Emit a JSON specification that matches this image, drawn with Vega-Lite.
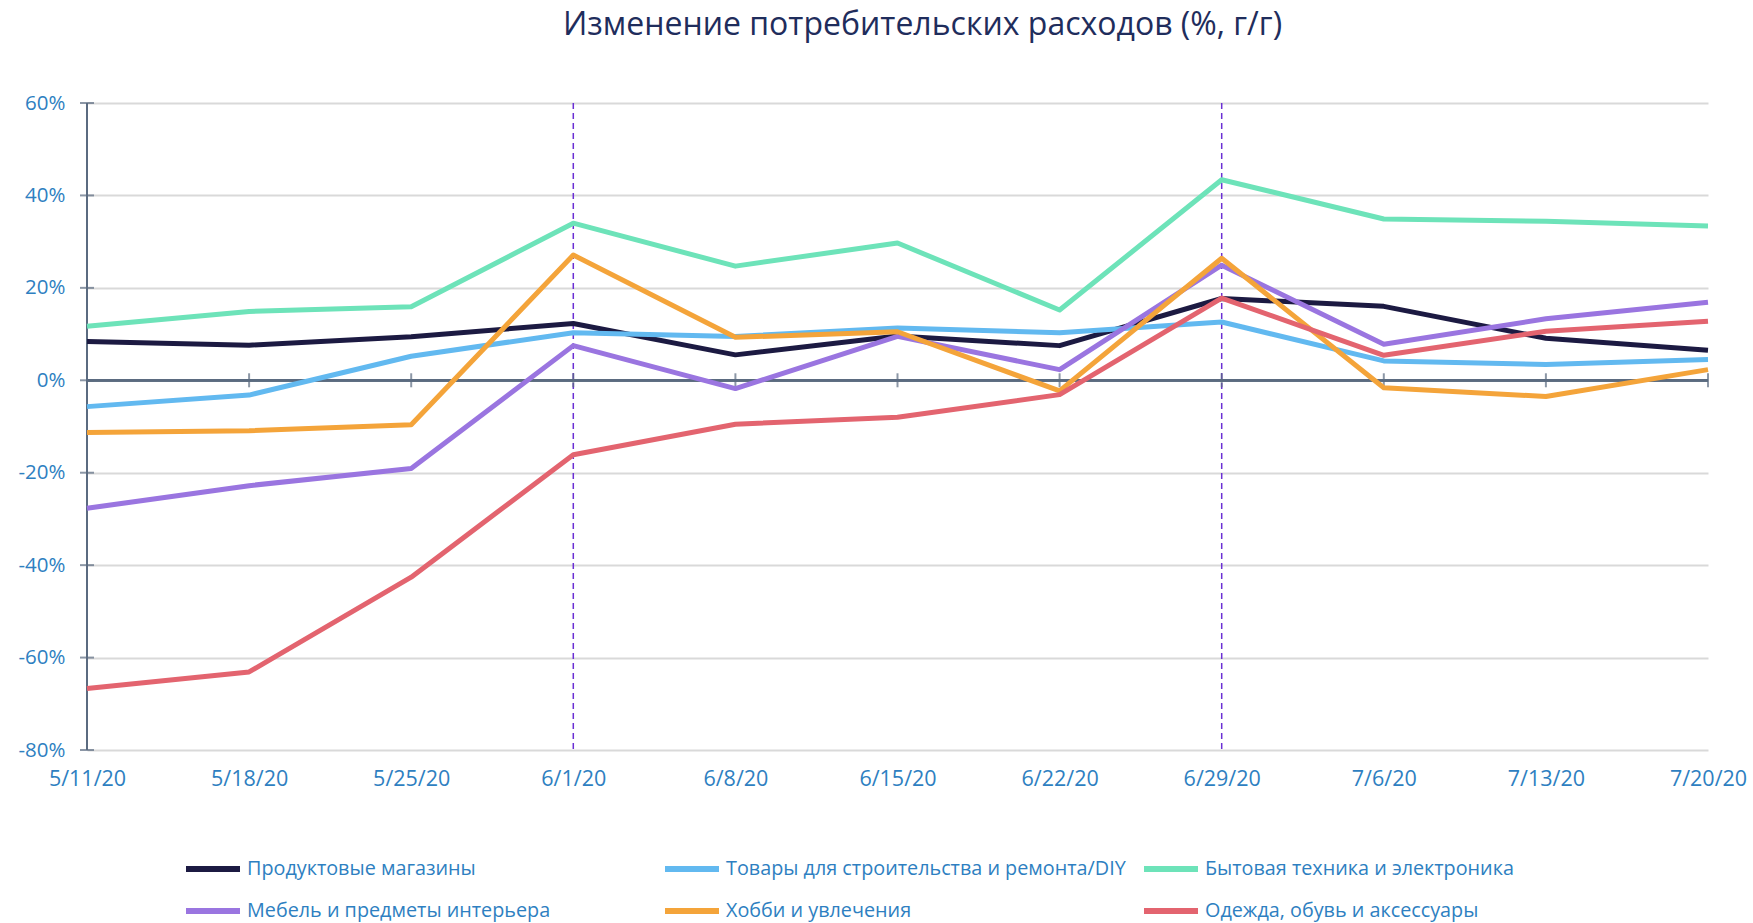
{
  "$schema": "https://vega.github.io/schema/vega-lite/v6.json",
  "width": 1621,
  "height": 647,
  "autosize": {"type": "none"},
  "padding": {"left": 87, "top": 103, "right": 45, "bottom": 173},
  "background": "white",
  "config": {"view": {"stroke": null}, "font": "Open Sans"},
  "title": {
    "text": "Изменение потребительских расходов (%, г/г)",
    "font": "Open Sans",
    "fontSize": 32,
    "fontWeight": "normal",
    "color": "#1f2d5c",
    "anchor": "middle",
    "frame": "group",
    "dx": 25,
    "offset": 51
  },
  "datasets": {
    "weeks": [
      {"week": "2020-05-11"}, {"week": "2020-05-18"}, {"week": "2020-05-25"}, {"week": "2020-06-01"},
      {"week": "2020-06-08"}, {"week": "2020-06-15"}, {"week": "2020-06-22"}, {"week": "2020-06-29"},
      {"week": "2020-07-06"}, {"week": "2020-07-13"}, {"week": "2020-07-20"}
    ],
    "yticks": [
      {"v": -80}, {"v": -60}, {"v": -40}, {"v": -20}, {"v": 0}, {"v": 20}, {"v": 40}, {"v": 60}
    ],
    "events": [{"week": "2020-06-01"}, {"week": "2020-06-29"}],
    "series": [
      {"week": "2020-05-11", "series": "Продуктовые магазины", "value": 8.4},
      {"week": "2020-05-18", "series": "Продуктовые магазины", "value": 7.6},
      {"week": "2020-05-25", "series": "Продуктовые магазины", "value": 9.4},
      {"week": "2020-06-01", "series": "Продуктовые магазины", "value": 12.3},
      {"week": "2020-06-08", "series": "Продуктовые магазины", "value": 5.5},
      {"week": "2020-06-15", "series": "Продуктовые магазины", "value": 9.6},
      {"week": "2020-06-22", "series": "Продуктовые магазины", "value": 7.5},
      {"week": "2020-06-29", "series": "Продуктовые магазины", "value": 17.7},
      {"week": "2020-07-06", "series": "Продуктовые магазины", "value": 16.0},
      {"week": "2020-07-13", "series": "Продуктовые магазины", "value": 9.1},
      {"week": "2020-07-20", "series": "Продуктовые магазины", "value": 6.5},

      {"week": "2020-05-11", "series": "Товары для строительства и ремонта/DIY", "value": -5.7},
      {"week": "2020-05-18", "series": "Товары для строительства и ремонта/DIY", "value": -3.2},
      {"week": "2020-05-25", "series": "Товары для строительства и ремонта/DIY", "value": 5.2},
      {"week": "2020-06-01", "series": "Товары для строительства и ремонта/DIY", "value": 10.3},
      {"week": "2020-06-08", "series": "Товары для строительства и ремонта/DIY", "value": 9.5},
      {"week": "2020-06-15", "series": "Товары для строительства и ремонта/DIY", "value": 11.3},
      {"week": "2020-06-22", "series": "Товары для строительства и ремонта/DIY", "value": 10.3},
      {"week": "2020-06-29", "series": "Товары для строительства и ремонта/DIY", "value": 12.6},
      {"week": "2020-07-06", "series": "Товары для строительства и ремонта/DIY", "value": 4.2},
      {"week": "2020-07-13", "series": "Товары для строительства и ремонта/DIY", "value": 3.4},
      {"week": "2020-07-20", "series": "Товары для строительства и ремонта/DIY", "value": 4.5},

      {"week": "2020-05-11", "series": "Бытовая техника и электроника", "value": 11.7},
      {"week": "2020-05-18", "series": "Бытовая техника и электроника", "value": 14.9},
      {"week": "2020-05-25", "series": "Бытовая техника и электроника", "value": 15.9},
      {"week": "2020-06-01", "series": "Бытовая техника и электроника", "value": 34.0},
      {"week": "2020-06-08", "series": "Бытовая техника и электроника", "value": 24.7},
      {"week": "2020-06-15", "series": "Бытовая техника и электроника", "value": 29.7},
      {"week": "2020-06-22", "series": "Бытовая техника и электроника", "value": 15.2},
      {"week": "2020-06-29", "series": "Бытовая техника и электроника", "value": 43.4},
      {"week": "2020-07-06", "series": "Бытовая техника и электроника", "value": 34.9},
      {"week": "2020-07-13", "series": "Бытовая техника и электроника", "value": 34.4},
      {"week": "2020-07-20", "series": "Бытовая техника и электроника", "value": 33.4},

      {"week": "2020-05-11", "series": "Мебель и предметы интерьера", "value": -27.7},
      {"week": "2020-05-18", "series": "Мебель и предметы интерьера", "value": -22.8},
      {"week": "2020-05-25", "series": "Мебель и предметы интерьера", "value": -19.1},
      {"week": "2020-06-01", "series": "Мебель и предметы интерьера", "value": 7.5},
      {"week": "2020-06-08", "series": "Мебель и предметы интерьера", "value": -1.8},
      {"week": "2020-06-15", "series": "Мебель и предметы интерьера", "value": 9.5},
      {"week": "2020-06-22", "series": "Мебель и предметы интерьера", "value": 2.3},
      {"week": "2020-06-29", "series": "Мебель и предметы интерьера", "value": 24.9},
      {"week": "2020-07-06", "series": "Мебель и предметы интерьера", "value": 7.8},
      {"week": "2020-07-13", "series": "Мебель и предметы интерьера", "value": 13.3},
      {"week": "2020-07-20", "series": "Мебель и предметы интерьера", "value": 16.9},

      {"week": "2020-05-11", "series": "Хобби и увлечения", "value": -11.3},
      {"week": "2020-05-18", "series": "Хобби и увлечения", "value": -10.9},
      {"week": "2020-05-25", "series": "Хобби и увлечения", "value": -9.6},
      {"week": "2020-06-01", "series": "Хобби и увлечения", "value": 27.1},
      {"week": "2020-06-08", "series": "Хобби и увлечения", "value": 9.3},
      {"week": "2020-06-15", "series": "Хобби и увлечения", "value": 10.5},
      {"week": "2020-06-22", "series": "Хобби и увлечения", "value": -2.3},
      {"week": "2020-06-29", "series": "Хобби и увлечения", "value": 26.4},
      {"week": "2020-07-06", "series": "Хобби и увлечения", "value": -1.6},
      {"week": "2020-07-13", "series": "Хобби и увлечения", "value": -3.5},
      {"week": "2020-07-20", "series": "Хобби и увлечения", "value": 2.3},

      {"week": "2020-05-11", "series": "Одежда, обувь и аксессуары", "value": -66.7},
      {"week": "2020-05-18", "series": "Одежда, обувь и аксессуары", "value": -63.1},
      {"week": "2020-05-25", "series": "Одежда, обувь и аксессуары", "value": -42.6},
      {"week": "2020-06-01", "series": "Одежда, обувь и аксессуары", "value": -16.1},
      {"week": "2020-06-08", "series": "Одежда, обувь и аксессуары", "value": -9.5},
      {"week": "2020-06-15", "series": "Одежда, обувь и аксессуары", "value": -8.0},
      {"week": "2020-06-22", "series": "Одежда, обувь и аксессуары", "value": -3.1},
      {"week": "2020-06-29", "series": "Одежда, обувь и аксессуары", "value": 17.8},
      {"week": "2020-07-06", "series": "Одежда, обувь и аксессуары", "value": 5.4},
      {"week": "2020-07-13", "series": "Одежда, обувь и аксессуары", "value": 10.6},
      {"week": "2020-07-20", "series": "Одежда, обувь и аксессуары", "value": 12.8}
    ]
  },
  "encoding": {
    "x": {
      "field": "week",
      "type": "ordinal",
      "scale": {"type": "point", "padding": 0},
      "axis": {
        "title": null,
        "labelAngle": 0,
        "labelExpr": "utcFormat(toDate(datum.value), '%-m/%-d/%y')",
        "labelFont": "Open Sans",
        "labelFontSize": 21.5,
        "labelColor": "#2e7fc1",
        "labelPadding": 18,
        "domain": false,
        "ticks": false,
        "grid": false
      }
    }
  },
  "layer": [
    {
      "data": {"name": "series"},
      "mark": {"type": "line", "opacity": 0},
      "encoding": {
        "y": {
          "field": "value",
          "type": "quantitative",
          "scale": {"domain": [-80, 60], "nice": false},
          "axis": {
            "title": null,
            "values": [-80, -60, -40, -20, 0, 20, 40, 60],
            "labelExpr": "datum.value + '%'",
            "labelFont": "Open Sans",
            "labelFontSize": 20.5,
            "labelColor": "#2e7fc1",
            "labelPadding": 22,
            "domain": false,
            "ticks": false,
            "grid": true,
            "gridColor": "#d9d9d9",
            "gridWidth": 2
          }
        },
        "detail": {"field": "series"}
      }
    },
    {
      "data": {"name": "events"},
      "mark": {"type": "rule", "color": "#6a2fd4", "strokeWidth": 1.5, "strokeDash": [6, 4]},
      "encoding": {}
    },
    {
      "data": {"name": "weeks"},
      "mark": {"type": "rule", "color": "#5b6b80", "strokeWidth": 2},
      "encoding": {"x": null, "y": {"datum": 0, "type": "quantitative"}}
    },
    {
      "data": {"name": "yticks"},
      "mark": {"type": "rule", "color": "#5b6b80", "strokeWidth": 2},
      "encoding": {"x": {"datum": "2020-05-11", "type": "ordinal"}}
    },
    {
      "data": {"name": "weeks"},
      "mark": {"type": "tick", "color": "#5b6b80", "thickness": 2, "size": 14, "orient": "vertical"},
      "encoding": {"y": {"datum": 0, "type": "quantitative"}}
    },
    {
      "data": {"name": "yticks"},
      "mark": {"type": "tick", "color": "#5b6b80", "thickness": 2, "size": 14, "orient": "horizontal"},
      "encoding": {
        "x": {"datum": "2020-05-11", "type": "ordinal"},
        "y": {"field": "v", "type": "quantitative"}
      }
    },
    {
      "data": {"name": "series"},
      "mark": {"type": "line", "strokeWidth": 5, "strokeCap": "butt", "strokeJoin": "round"},
      "encoding": {
        "y": {"field": "value", "type": "quantitative"},
        "color": {
          "field": "series",
          "type": "nominal",
          "scale": {
            "domain": [
              "Продуктовые магазины",
              "Товары для строительства и ремонта/DIY",
              "Бытовая техника и электроника",
              "Мебель и предметы интерьера",
              "Хобби и увлечения",
              "Одежда, обувь и аксессуары"
            ],
            "range": ["#1c1a42", "#62b9f0", "#6de3b9", "#9a75e0", "#f4a43a", "#e3646f"]
          },
          "legend": {
            "title": null,
            "orient": "none",
            "legendX": 96,
            "legendY": 736,
            "direction": "horizontal",
            "columns": 3,
            "gridAlign": "all",
            "columnPadding": 6,
            "rowPadding": -5,
            "symbolType": "stroke",
            "symbolSize": 2916,
            "symbolStrokeWidth": 6,
            "symbolStrokeCap": "round",
            "labelFont": "Open Sans",
            "labelFontSize": 19.8,
            "labelColor": "#2e7fc1",
            "labelOffset": 4,
            "labelLimit": 600
          }
        }
      }
    }
  ]
}
